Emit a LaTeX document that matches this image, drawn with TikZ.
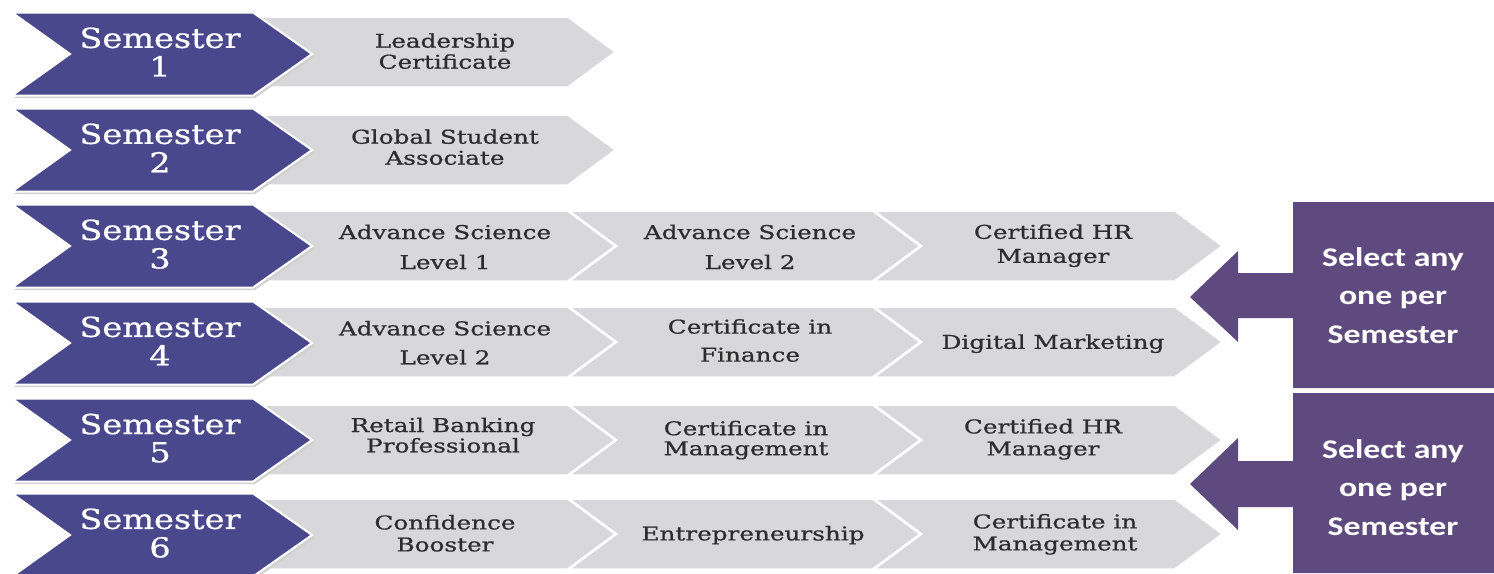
\documentclass[tikz,border=0pt]{standalone}
\usepackage{graphicx}
\usepackage{fontspec}
\setmainfont{DejaVu Serif}
\newfontfamily\gfont{DejaVu Serif}[FakeBold=0.7]
\newfontfamily\calfont{Carlito}
\definecolor{semblue}{RGB}{74,72,140}
\definecolor{chevgrey}{RGB}{216,216,218}
\definecolor{callpurple}{RGB}{94,74,126}
\definecolor{txtgrey}{RGB}{45,45,45}
\newcommand\gtxt[2]{\scalebox{1.3}[1]{\gfont\fontsize{19}{#1}\selectfont\begin{tabular}{@{}c@{}}#2\end{tabular}}}
\newcommand\stxt[1]{\scalebox{1.22}[1]{\gfont\fontsize{27.5}{27}\selectfont\begin{tabular}{@{}c@{}}#1\end{tabular}}}
\newcommand\ctxt[1]{\scalebox{1.25}[1]{\calfont\bfseries\fontsize{27}{38.5}\selectfont\begin{tabular}{@{}c@{}}#1\end{tabular}}}
\tikzset{
  greyshape/.style={fill=chevgrey, draw=white, line width=2.5pt, line join=miter},
  darkshape/.style={fill=semblue, draw=white, line width=2pt, line join=miter},
  shadowshape/.style={fill=black!18},
  calloutshape/.style={fill=callpurple},
  gtext/.style={text=txtgrey, inner sep=0pt},
  stext/.style={text=white, inner sep=0pt},
  ctext/.style={text=white, inner sep=0pt},
}
\begin{document}
\begin{tikzpicture}[x=1pt,y=-1pt]
\useasboundingbox[fill=white] (0,0) rectangle (1494,573);
% grey chevrons
\foreach \yc in {52,150,246,342,440,534}{
  \path[greyshape] (250,\yc-35.5) -- (568,\yc-35.5) -- (616,\yc) -- (568,\yc+35.5) -- (250,\yc+35.5) -- cycle;
}
\foreach \yc in {246,342,440,534}{
  \path[greyshape] (568,\yc-35.5) -- (873,\yc-35.5) -- (921,\yc) -- (873,\yc+35.5) -- (568,\yc+35.5) -- (616,\yc) -- cycle;
  \path[greyshape] (873,\yc-35.5) -- (1175,\yc-35.5) -- (1223,\yc) -- (1175,\yc+35.5) -- (873,\yc+35.5) -- (921,\yc) -- cycle;
}
% dark chevrons
\foreach \yc in {54,150,246,343,440,535}{
  \path[shadowshape] (14,\yc-39) -- (255,\yc-39) -- (315,\yc+3) -- (255,\yc+44) -- (14,\yc+44) -- (73,\yc+3) -- cycle;
  \path[darkshape] (12,\yc-41.5) -- (253,\yc-41.5) -- (312,\yc) -- (253,\yc+41.5) -- (12,\yc+41.5) -- (70,\yc) -- cycle;
}
% semester labels
\node[stext] (s1) at (160,56) {\stxt{Semester\\1}};
\node[stext] (s2) at (160,152) {\stxt{Semester\\2}};
\node[stext] (s3) at (160,248) {\stxt{Semester\\3}};
\node[stext] (s4) at (160,345) {\stxt{Semester\\4}};
\node[stext] (s5) at (160,442) {\stxt{Semester\\5}};
\node[stext] (s6) at (160,537) {\stxt{Semester\\6}};
% grey labels
\node[gtext] (r1c1) at (445,54) {\gtxt{21}{Leadership\\Certificate}};
\node[gtext] (r2c1) at (445,150) {\gtxt{21}{Global Student\\Associate}};
\node[gtext] (r3c1) at (445,248) {\gtxt{30}{Advance Science\\Level 1}};
\node[gtext] (r3c2) at (750,248) {\gtxt{30}{Advance Science\\Level 2}};
\node[gtext] (r3c3) at (1053,246) {\gtxt{24}{Certified HR\\Manager}};
\node[gtext] (r4c1) at (445,344) {\gtxt{29}{Advance Science\\Level 2}};
\node[gtext] (r4c2) at (750,342) {\gtxt{28}{Certificate in\\Finance}};
\node[gtext] (r4c3) at (1053,344) {\gtxt{24}{Digital Marketing}};
\node[gtext] (r5c1) at (443,438) {\gtxt{20}{Retail Banking\\Professional}};
\node[gtext] (r5c2) at (746,441) {\gtxt{20}{Certificate in\\Management}};
\node[gtext] (r5c3) at (1043,440) {\gtxt{22}{Certified HR\\Manager}};
\node[gtext] (r6c1) at (445,536) {\gtxt{22}{Confidence\\Booster}};
\node[gtext] (r6c2) at (753,536) {\gtxt{22}{Entrepreneurship}};
\node[gtext] (r6c3) at (1055,535) {\gtxt{22}{Certificate in\\Management}};
% callouts
\path[calloutshape] (1293,202) -- (1494,202) -- (1494,388) -- (1293,388) -- (1293,318) -- (1238,318) -- (1238,342) -- (1190,297) -- (1238,251) -- (1238,273) -- (1293,273) -- cycle;
\path[calloutshape] (1293,393) -- (1494,393) -- (1494,573) -- (1293,573) -- (1293,507) -- (1238,507) -- (1238,530) -- (1190,484) -- (1238,438) -- (1238,461) -- (1293,461) -- cycle;
\node[ctext] (call1) at (1393,297) {\ctxt{Select any\\one per\\Semester}};
\node[ctext] (call2) at (1393,489) {\ctxt{Select any\\one per\\Semester}};
\end{tikzpicture}
\end{document}
